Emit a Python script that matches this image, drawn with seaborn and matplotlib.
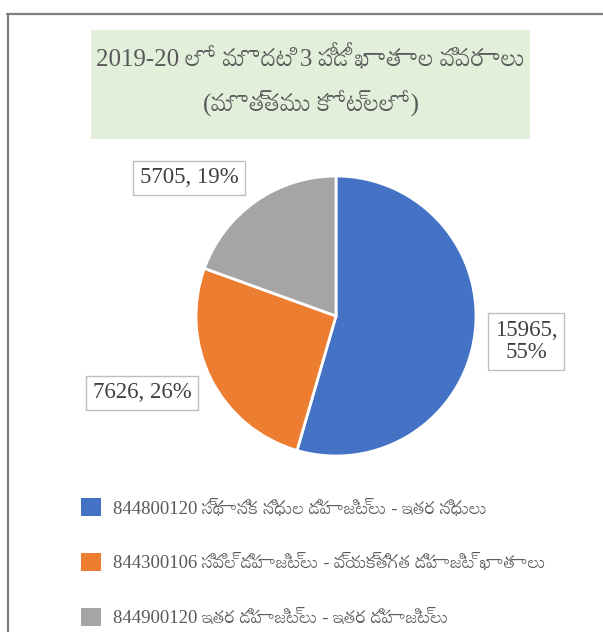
import matplotlib
matplotlib.use("Agg")
import matplotlib.pyplot as plt
import seaborn as sns
from matplotlib.patches import Rectangle, Patch
from matplotlib.lines import Line2D

sns.set_style("white")
plt.rcParams['font.family'] = ['Liberation Serif', 'Mandali', 'Noto Serif Telugu', 'DejaVu Sans']

# ---- data ----
categories = [
    "844800120 స్థానిక నిధుల డిపాజిట్లు - ఇతర నిధులు",
    "844300106 సివిల్ డిపాజిట్లు - వ్యక్తిగత డిపాజిట్ ఖాతాలు",
    "844900120 ఇతర డిపాజిట్లు - ఇతర డిపాజిట్లు",
]
values = [15965, 7626, 5705]
percents = [55, 26, 19]
colors = ["#4472C4", "#ED7D31", "#A5A5A5"]
title_lines = ["2019-20 లో మొదటి 3 పీడీ ఖాతాల వివరాలు", "(మొత్తము కోట్లలో)"]

W, H = 603, 632
fig = plt.figure(figsize=(W / 100, H / 100), dpi=100)

def fx(px):
    return px / W

def fy(py):
    return 1 - py / H

# outer border (top and left)
fig.add_artist(Line2D([fx(7), fx(603)], [fy(14), fy(14)], color="#7F7F7F", lw=1.6))
fig.add_artist(Line2D([fx(8), fx(8)], [fy(14), fy(632)], color="#7F7F7F", lw=1.6))

# title box
fig.add_artist(Rectangle((fx(91), fy(139)), fx(530) - fx(91), fy(30) - fy(139),
                         transform=fig.transFigure, facecolor="#E2EFDA", edgecolor="none"))
fig.text(fx(311), fy(58), title_lines[0], ha="center", va="center", fontsize=18,
         color="#595959")
fig.text(fx(311), fy(104), title_lines[1], ha="center", va="center", fontsize=18,
         color="#595959")

# pie axes: center (336, 316), radius 140
cx, cy, r = 336, 316, 140
ax = fig.add_axes([fx(cx - r), fy(cy + r), fx(2 * r), (2 * r) / H])
wedges, _ = ax.pie(values, colors=colors, startangle=90, counterclock=False,
                   radius=1.0, wedgeprops=dict(edgecolor="white", linewidth=2))
ax.set_xlim(-1, 1)
ax.set_ylim(-1, 1)
ax.set_aspect("equal")
ax.axis("off")

# data labels
label_pos = [(1.357, -0.182), (-1.386, -0.55), (-1.05, 0.986)]
label_text = [f"{values[0]},\n{percents[0]}%", f"{values[1]}, {percents[1]}%",
              f"{values[2]}, {percents[2]}%"]
for (lx, ly), t in zip(label_pos, label_text):
    ax.text(lx, ly, t, ha="center", va="center", fontsize=16.5, color="#404040",
            linespacing=1.1, clip_on=False,
            bbox=dict(boxstyle="square,pad=0.28", facecolor="white",
                      edgecolor="#BFBFBF", linewidth=1))

# legend
handles = [Patch(facecolor=c, edgecolor="none") for c in colors]
leg = fig.legend(handles, categories, loc="upper left",
                 bbox_to_anchor=(fx(64.5), fy(481.5)), frameon=False,
                 fontsize=13.5, labelspacing=1.9, handlelength=1.07,
                 handleheight=1.07, handletextpad=0.62)
for t in leg.get_texts():
    t.set_color("#595959")

fig.savefig("out.png", dpi=100)
